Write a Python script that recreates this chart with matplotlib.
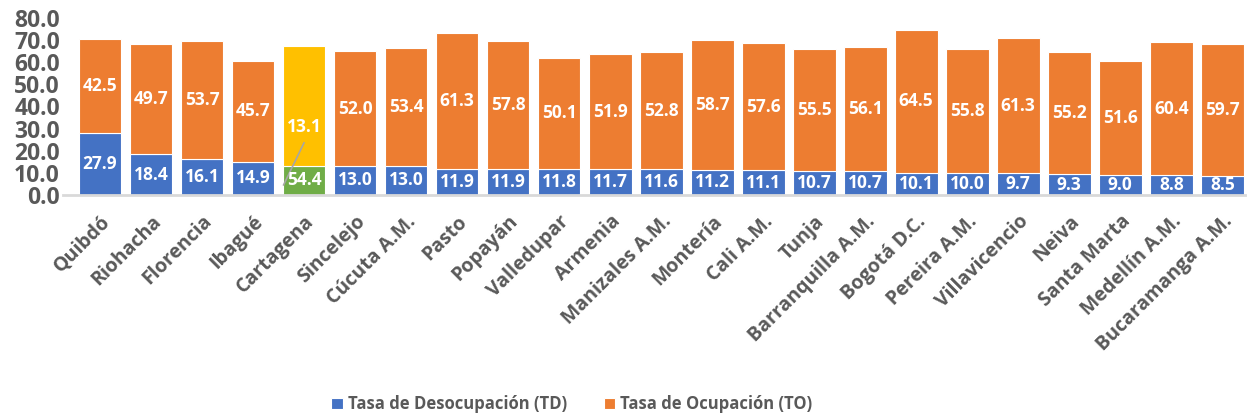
import numpy as np
import matplotlib.pyplot as plt

plt.rcParams['font.family'] = ['Open Sans', 'DejaVu Sans']

ciudades = ["Quibdó", "Riohacha", "Florencia", "Ibagué", "Cartagena", "Sincelejo",
            "Cúcuta A.M.", "Pasto", "Popayán", "Valledupar", "Armenia", "Manizales A.M.",
            "Montería", "Cali A.M.", "Tunja", "Barranquilla A.M.", "Bogotá D.C.",
            "Pereira A.M.", "Villavicencio", "Neiva", "Santa Marta", "Medellín A.M.",
            "Bucaramanga A.M."]
td = [27.9, 18.4, 16.1, 14.9, 13.1, 13.0, 13.0, 11.9, 11.9, 11.8, 11.7, 11.6,
      11.2, 11.1, 10.7, 10.7, 10.1, 10.0, 9.7, 9.3, 9.0, 8.8, 8.5]
to = [42.5, 49.7, 53.7, 45.7, 54.4, 52.0, 53.4, 61.3, 57.8, 50.1, 51.9, 52.8,
      58.7, 57.6, 55.5, 56.1, 64.5, 55.8, 61.3, 55.2, 51.6, 60.4, 59.7]
destacada = "Cartagena"

azul, naranja, verde, amarillo = '#4472C4', '#ED7D31', '#70AD47', '#FFC000'
gris = '#595959'

x = np.arange(len(ciudades))
col_td = [verde if c == destacada else azul for c in ciudades]
col_to = [amarillo if c == destacada else naranja for c in ciudades]

fig = plt.figure(figsize=(12.54, 4.19), dpi=100)
ax = fig.add_axes([0.05, 0.535, 0.943, 0.422])

b1 = ax.bar(x, td, width=0.84, color=col_td, edgecolor='white', linewidth=0.8)
b2 = ax.bar(x, to, bottom=td, width=0.84, color=col_to, edgecolor='white', linewidth=0.8)

lbl = dict(ha='center', va='center', color='white', fontsize=12.5, fontweight='bold')
for i, c in enumerate(ciudades):
    if c == destacada:
        # etiquetas intercambiadas en el original, con línea guía
        ax.text(i, td[i] / 2, f"{to[i]:.1f}", **lbl)
        ax.text(i, 30.5, f"{td[i]:.1f}", **lbl)
        ax.plot([i - 0.4, i + 0.0], [4.5, 23.5], color='#A6A6A6', lw=1.2)
    else:
        ax.text(i, td[i] / 2, f"{td[i]:.1f}", **lbl)
        ax.text(i, td[i] + to[i] / 2, f"{to[i]:.1f}", **lbl)

ax.set_ylim(0, 80)
ax.set_xlim(-0.73, 22.45)
ax.set_yticks(np.arange(0, 81, 10))
ax.set_yticklabels([f"{v:.1f}" for v in np.arange(0, 81, 10)],
                   fontsize=16.5, fontweight='bold', color=gris)
ax.set_xticks(x)
ax.set_xticklabels(ciudades, rotation=45, ha='right', rotation_mode='anchor',
                   fontsize=14, fontweight='bold', color=gris)
ax.tick_params(axis='both', length=0)
ax.tick_params(axis='x', pad=12)
ax.tick_params(axis='y', pad=2)
for s in ['top', 'right', 'left']:
    ax.spines[s].set_visible(False)
ax.spines['bottom'].set_color('#D9D9D9')
ax.spines['bottom'].set_linewidth(2)

fig.legend(handles=[b1.patches[0], b2.patches[1]],
           labels=['Tasa de Desocupación (TD)', 'Tasa de Ocupación (TO)'],
           loc='center', bbox_to_anchor=(0.456, 0.035), ncol=2, frameon=False,
           prop={'size': 12, 'weight': 'bold'}, labelcolor=gris,
           handlelength=0.7, handleheight=0.7, handletextpad=0.3, columnspacing=2.2)

fig.savefig('out.png', dpi=100)
